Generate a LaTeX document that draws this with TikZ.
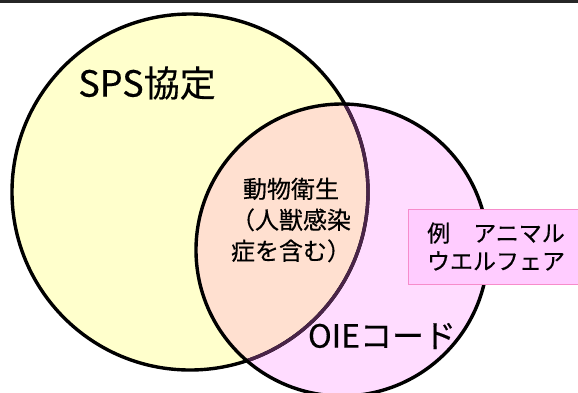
\documentclass[tikz,border=0pt]{standalone}
\usepackage{fontspec}
\setmainfont[FakeBold=0.4]{Noto Sans CJK JP}
\begin{document}
\begin{tikzpicture}[x=1pt,y=-1pt,
  outline/.style={line width=3.4pt},
  lbl/.style={inner sep=0pt, align=center, text=black},
  notebox/.style={draw=magenta!45, line width=1pt, fill=pinkbox, minimum width=176pt, minimum height=75pt, inner sep=0pt, align=center}]
\definecolor{yel}{HTML}{FFFFCC}
\definecolor{pnk}{HTML}{FFDCFF}
\definecolor{ovl}{HTML}{FFE0D0}
\definecolor{pinkbox}{HTML}{FFCCFF}
\definecolor{darkpurple}{HTML}{4A2448}
\useasboundingbox (0,0) rectangle (578,392);
% circles
\fill[yel] (190,192) circle[radius=178];
\fill[pnk] (342,250) circle[radius=146];
\begin{scope}
  \clip (190,192) circle[radius=178];
  \fill[ovl] (342,250) circle[radius=146];
\end{scope}
\draw[outline] (190,192) circle[radius=178];
\begin{scope}
  \clip (342,250) circle[radius=146];
  \draw[outline, darkpurple] (190,192) circle[radius=178];
\end{scope}
\draw[outline] (342,250) circle[radius=146];
% top rule
\coordinate (tl) at (0,1.5);
\coordinate (tr) at (578,1.5);
\draw[line width=3pt, black!85] (tl) -- (tr);
% labels
\node[lbl, font=\fontsize{36}{40}\selectfont] (sps) at (147,83) {SPS協定};
\node[lbl, font=\fontsize{24}{31}\selectfont] (animal) at (291,220) {動物衛生\\（人獣感染\\症を含む）};
\node[lbl, font=\fontsize{32}{36}\selectfont] (oie) at (382,336) {OIEコード};
\node[notebox, font=\fontsize{23}{28}\selectfont] (ex) at (496,246.5) {例　アニマル\\ウエルフェア};
\end{tikzpicture}
\end{document}
